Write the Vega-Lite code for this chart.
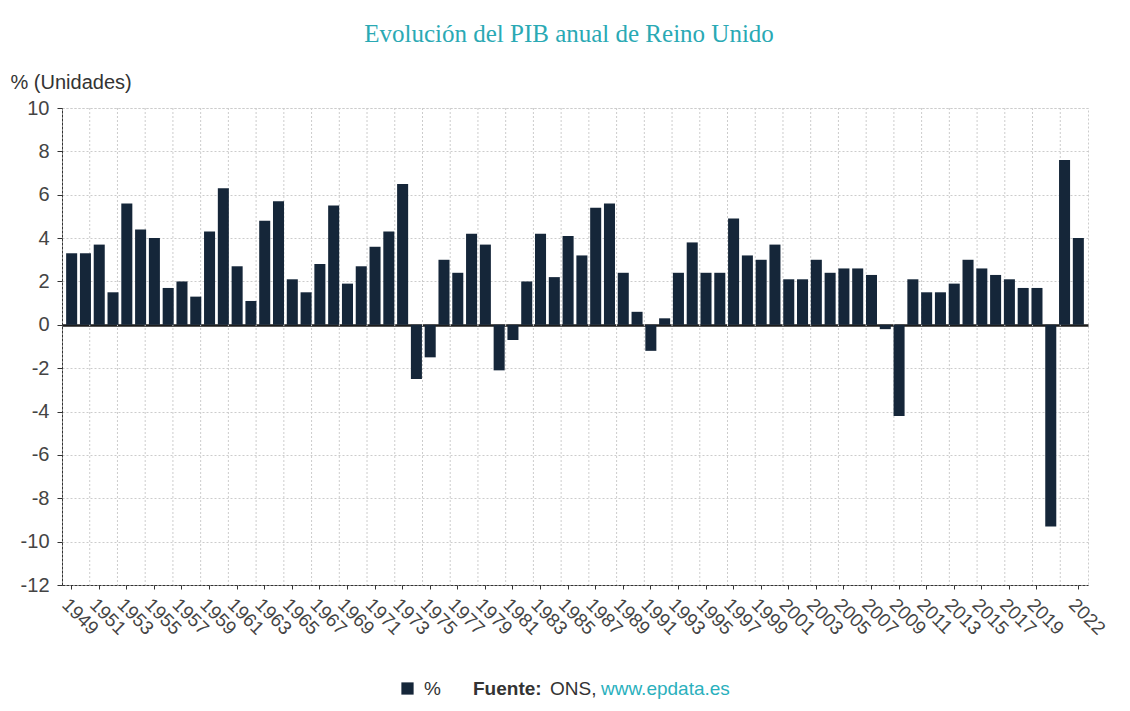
{
  "$schema": "https://vega.github.io/schema/vega-lite/v6.json",
  "width": 1026,
  "height": 477,
  "padding": {"left": 10, "top": 22, "right": 10, "bottom": 5},
  "title": {
    "text": "Evolución del PIB anual de Reino Unido",
    "font": "Liberation Serif",
    "fontSize": 25,
    "fontWeight": "normal",
    "color": "#2aa9b4",
    "anchor": "middle",
    "dx": -6,
    "offset": 25
  },
  "data": {
    "values": [
      {"year": 1949, "pib": 3.3}, {"year": 1950, "pib": 3.3}, {"year": 1951, "pib": 3.7},
      {"year": 1952, "pib": 1.5}, {"year": 1953, "pib": 5.6}, {"year": 1954, "pib": 4.4},
      {"year": 1955, "pib": 4.0}, {"year": 1956, "pib": 1.7}, {"year": 1957, "pib": 2.0},
      {"year": 1958, "pib": 1.3}, {"year": 1959, "pib": 4.3}, {"year": 1960, "pib": 6.3},
      {"year": 1961, "pib": 2.7}, {"year": 1962, "pib": 1.1}, {"year": 1963, "pib": 4.8},
      {"year": 1964, "pib": 5.7}, {"year": 1965, "pib": 2.1}, {"year": 1966, "pib": 1.5},
      {"year": 1967, "pib": 2.8}, {"year": 1968, "pib": 5.5}, {"year": 1969, "pib": 1.9},
      {"year": 1970, "pib": 2.7}, {"year": 1971, "pib": 3.6}, {"year": 1972, "pib": 4.3},
      {"year": 1973, "pib": 6.5}, {"year": 1974, "pib": -2.5}, {"year": 1975, "pib": -1.5},
      {"year": 1976, "pib": 3.0}, {"year": 1977, "pib": 2.4}, {"year": 1978, "pib": 4.2},
      {"year": 1979, "pib": 3.7}, {"year": 1980, "pib": -2.1}, {"year": 1981, "pib": -0.7},
      {"year": 1982, "pib": 2.0}, {"year": 1983, "pib": 4.2}, {"year": 1984, "pib": 2.2},
      {"year": 1985, "pib": 4.1}, {"year": 1986, "pib": 3.2}, {"year": 1987, "pib": 5.4},
      {"year": 1988, "pib": 5.6}, {"year": 1989, "pib": 2.4}, {"year": 1990, "pib": 0.6},
      {"year": 1991, "pib": -1.2}, {"year": 1992, "pib": 0.3}, {"year": 1993, "pib": 2.4},
      {"year": 1994, "pib": 3.8}, {"year": 1995, "pib": 2.4}, {"year": 1996, "pib": 2.4},
      {"year": 1997, "pib": 4.9}, {"year": 1998, "pib": 3.2}, {"year": 1999, "pib": 3.0},
      {"year": 2000, "pib": 3.7}, {"year": 2001, "pib": 2.1}, {"year": 2002, "pib": 2.1},
      {"year": 2003, "pib": 3.0}, {"year": 2004, "pib": 2.4}, {"year": 2005, "pib": 2.6},
      {"year": 2006, "pib": 2.6}, {"year": 2007, "pib": 2.3}, {"year": 2008, "pib": -0.2},
      {"year": 2009, "pib": -4.2}, {"year": 2010, "pib": 2.1}, {"year": 2011, "pib": 1.5},
      {"year": 2012, "pib": 1.5}, {"year": 2013, "pib": 1.9}, {"year": 2014, "pib": 3.0},
      {"year": 2015, "pib": 2.6}, {"year": 2016, "pib": 2.3}, {"year": 2017, "pib": 2.1},
      {"year": 2018, "pib": 1.7}, {"year": 2019, "pib": 1.7}, {"year": 2020, "pib": -9.3},
      {"year": 2021, "pib": 7.6}, {"year": 2022, "pib": 4.0}
    ]
  },
  "layer": [
    {
      "transform": [{"filter": "datum.year % 2 == 0 && datum.year < 2022"}],
      "mark": {"type": "rule", "color": "#cccccc", "strokeWidth": 1},
      "encoding": {
        "x": {
          "field": "year",
          "type": "quantitative",
          "scale": {"domain": [1948, 2022], "nice": false, "zero": false},
          "axis": null
        },
        "strokeDash": {
          "datum": "ONS,",
          "scale": {"domain": ["ONS,", "www.epdata.es"], "range": [[2, 2], [2, 2]]},
          "legend": {
            "orient": "none",
            "legendX": 411,
            "legendY": 571,
            "direction": "horizontal",
            "padding": 0,
            "title": "Fuente:",
            "titleOrient": "left",
            "titleFontSize": 19,
            "titleFontWeight": "bold",
            "titleColor": "#333333",
            "titlePadding": 4,
            "symbolSize": 1,
            "symbolOpacity": 0,
            "symbolStrokeWidth": 0,
            "labelOffset": -15,
            "labelFontSize": 19,
            "labelLimit": 0,
            "columnPadding": -7,
            "labelColor": {"expr": "datum.value == 'www.epdata.es' ? '#2ab0bd' : '#333333'"}
          }
        }
      }
    },
    {
      "mark": {"type": "bar"},
      "encoding": {
        "x": {
          "field": "year",
          "type": "ordinal",
          "scale": {"paddingInner": 0.2, "paddingOuter": 0.3},
          "axis": {
            "title": null,
            "values": [1949, 1951, 1953, 1955, 1957, 1959, 1961, 1963, 1965, 1967, 1969, 1971, 1973, 1975, 1977, 1979, 1981, 1983, 1985, 1987, 1989, 1991, 1993, 1995, 1997, 1999, 2001, 2003, 2005, 2007, 2009, 2011, 2013, 2015, 2017, 2019, 2022],
            "labelAngle": 45,
            "labelAlign": "left",
            "labelBaseline": "top",
            "labelFontSize": 19,
            "labelColor": "#444444",
            "labelPadding": 6,
            "labelOverlap": false,
            "labelFlush": false,
            "tickSize": 4,
            "tickColor": "#333333",
            "domainColor": "#333333",
            "domainDash": [3, 1],
            "grid": false
          }
        },
        "y": {
          "field": "pib",
          "type": "quantitative",
          "scale": {"domain": [-12, 10], "nice": false},
          "axis": {
            "title": "% (Unidades)",
            "titleAngle": 0,
            "titleAlign": "left",
            "titleBaseline": "middle",
            "titleX": -52,
            "titleY": -26,
            "titleFontSize": 20,
            "titleFontWeight": "normal",
            "titleColor": "#333333",
            "values": [-12, -10, -8, -6, -4, -2, 0, 2, 4, 6, 8, 10],
            "labelExpr": "'' + datum.value",
            "labelFontSize": 20,
            "labelColor": "#444444",
            "labelPadding": 8,
            "tickSize": 5,
            "tickColor": "#333333",
            "domainColor": "#333333",
            "domainDash": [3, 1],
            "grid": true,
            "gridColor": {"condition": {"test": "datum.value === 0", "value": "#1c1c1c"}, "value": "#cccccc"},
            "gridWidth": {"condition": {"test": "datum.value === 0", "value": 2.5}, "value": 1},
            "gridDash": {"condition": {"test": "datum.value === 0", "value": []}, "value": [2, 2]}
          }
        },
        "color": {
          "datum": "%",
          "scale": {"range": ["#152639"]},
          "legend": {
            "orient": "none",
            "legendX": 336,
            "legendY": 571,
            "padding": 0,
            "title": null,
            "symbolType": "square",
            "symbolSize": 150,
            "symbolStrokeWidth": 0,
            "labelFontSize": 19,
            "labelColor": "#333333",
            "labelOffset": 7
          }
        }
      }
    }
  ],
  "resolve": {"scale": {"x": "independent"}},
  "config": {
    "font": "Liberation Sans",
    "view": {"stroke": "#cccccc", "strokeDash": [2, 2]}
  }
}
